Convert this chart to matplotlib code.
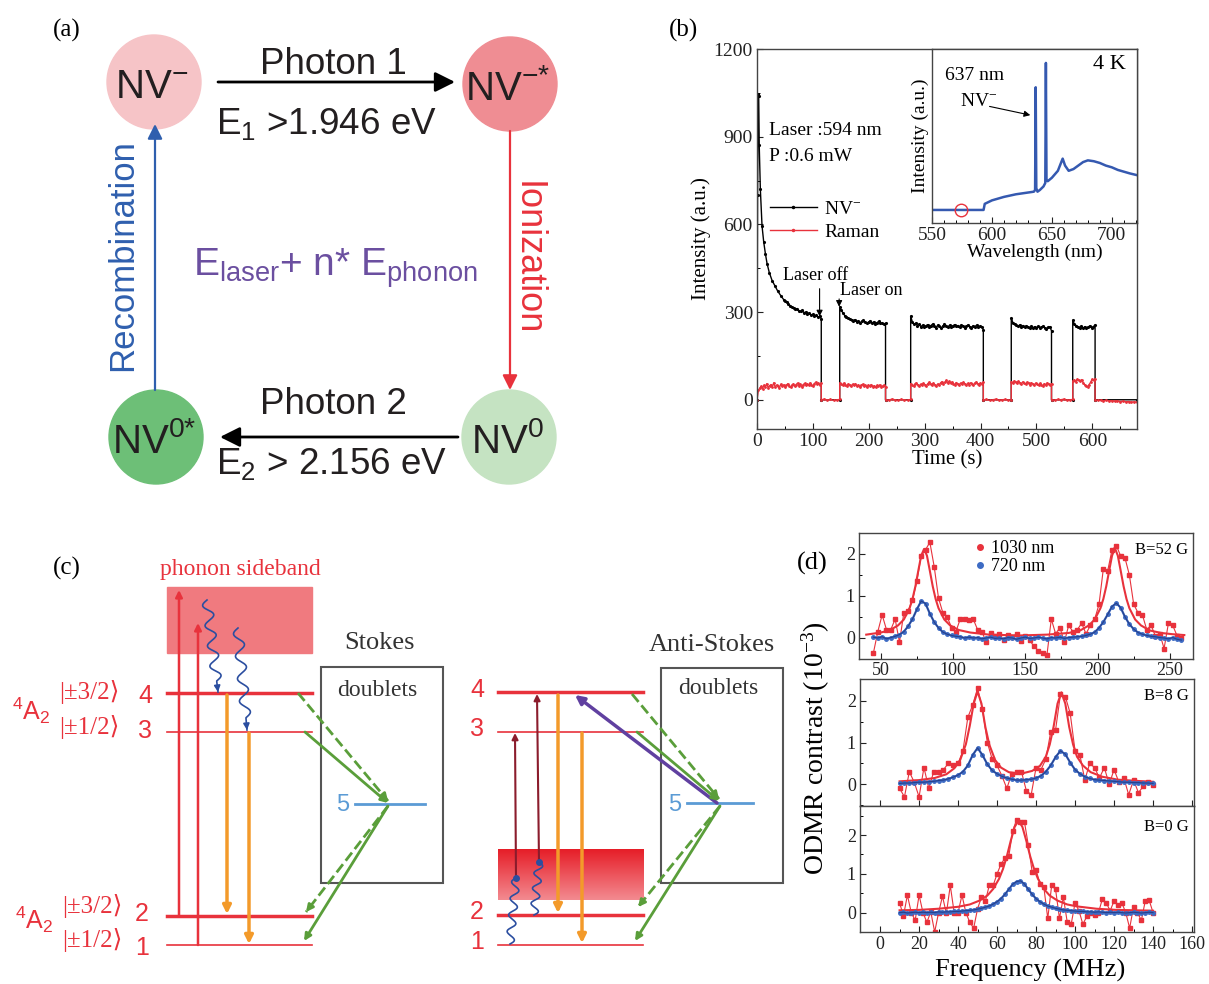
import numpy as np
import matplotlib
matplotlib.use("Agg")
import matplotlib.pyplot as plt
from matplotlib.patches import Circle, Rectangle
from matplotlib.lines import Line2D
from matplotlib.colors import to_rgb

W, H = 1209, 984
SERIF = ['Liberation Serif', 'DejaVu Serif']
SANS = ['Liberation Sans', 'DejaVu Sans']
NARROW = ['Liberation Sans Narrow', 'Liberation Sans', 'DejaVu Sans']
KET = ['Liberation Serif', 'DejaVu Sans']
plt.rcParams['font.family'] = SERIF
plt.rcParams['mathtext.default'] = 'regular'

RED = '#e8323c'
BLUE = '#3d6bc4'
GREEN = '#5a9e3a'
ORANGE = '#f39a2a'
TXT = '#231f20'

# ---------------- (a) cycle diagram ----------------
node_labels = ['NV$^{-}$', 'NV$^{-{*}}$', 'NV$^{0}$', 'NV$^{0{*}}$']
node_x = [154, 510, 509, 156]
node_y = [82, 84, 437, 437]
node_colors = ['#f6c4c7', '#ef8d93', '#c5e3c2', '#6dbf77']

# ---------------- (b) time trace ----------------
laser_on = [(0, 115), (148, 230), (275, 405), (455, 527), (565, 605)]
laser_off = [(115, 148), (230, 275), (405, 455), (527, 565), (605, 680)]

nv_decay_t = [0, 1, 2, 3, 4, 6, 9, 12, 15, 18, 22, 27, 32, 37, 43, 48]
nv_decay_v = [0, 700, 1045, 1040, 870, 720, 595, 540, 500, 466, 435, 408, 390, 372, 355, 342]
nv_on = [
    [338, 333, 328, 322, 318, 314, 310, 312, 305, 302, 306, 298, 300, 294, 297, 290, 292, 286, 289, 282, 285, 278],
    [318, 306, 296, 288, 284, 280, 276, 272, 270, 274, 267, 270, 264, 268, 272, 265, 262, 266, 270, 263, 266, 260,
     264, 268, 261, 263, 259, 262],
    [286, 266, 258, 262, 254, 258, 250, 255, 249, 253, 257, 250, 254, 259, 252, 247, 255, 251, 246, 252, 258, 254,
     249, 255, 250, 253, 257, 251, 254, 248, 256, 251, 246, 252, 256, 250, 247, 253, 250, 255, 248, 252, 250, 240],
    [280, 263, 258, 255, 251, 256, 249, 254, 248, 253, 250, 246, 252, 247, 250, 244, 251, 245, 248, 252, 246, 243,
     248, 250, 236],
    [272, 258, 254, 250, 247, 252, 245, 250, 244, 249, 253, 246, 250, 256],
]
nv_off = [[0, 0], [0, 0], [0, 0], [0, 0], [0, 0]]

raman_on = [
    [0, 32, 40, 46, 38, 50, 44, 55, 41, 48, 52, 45, 58, 43, 50, 47, 40, 53, 46, 51, 44, 49, 55, 47, 42, 50, 54, 46,
     52, 57, 48, 53, 45, 51, 56, 49, 54, 50, 58, 52, 47, 55, 60, 53, 57, 50, 56],
    [58, 55, 50, 57, 52, 48, 54, 50, 46, 53, 49, 55, 47, 51, 44, 50, 53, 46, 49, 43, 50, 47, 52, 45, 48, 42, 49, 46,
     51, 44, 47, 50, 45],
    [55, 50, 47, 54, 58, 51, 46, 53, 49, 56, 52, 48, 55, 60, 53, 49, 57, 51, 47, 54, 50, 58, 62, 55, 60, 66, 58, 63,
     57, 61, 55, 52, 59, 54, 50, 57, 53, 60, 55, 49, 56, 52, 58, 54, 50, 57, 61, 55, 52, 58, 54, 60],
    [62, 58, 64, 60, 56, 63, 59, 55, 61, 57, 53, 60, 56, 52, 58, 54, 50, 57, 53, 49, 56, 52, 48, 55, 51, 58, 53, 49, 55],
    [64, 68, 62, 70, 66, 63, 69, 58, 52, 48, 45, 52, 60, 70, 66, 72],
]
raman_off = [
    [0, 2, -1, 1, -2, 0, 1],
    [0, -1, 2, 0, -2, 1, 0, -1, 1],
    [0, 1, -2, 0, 2, -1, 0, 1, -1, 0],
    [0, -1, 1, 0, 2, -1, 0, 1],
    [0, -2, -1, -3, -2, -4, -3, -5, -4, -6, -5, -7, -6, -8, -7, -8],
]

# inset spectrum
spec_wl = [550, 575, 593, 594, 600, 610, 620, 630, 635, 636, 636.5, 637, 638, 640, 643, 644.5, 645, 645.5, 646.5,
           650, 655, 659, 661, 664, 668, 672, 676, 680, 685, 690, 695, 700, 705, 710, 715, 721]
spec_int = [0.075, 0.075, 0.075, 0.11, 0.13, 0.15, 0.165, 0.175, 0.18, 0.19, 0.78, 0.2, 0.18, 0.19, 0.21, 0.23,
            0.92, 0.25, 0.24, 0.26, 0.30, 0.37, 0.33, 0.30, 0.31, 0.33, 0.35, 0.36, 0.355, 0.345, 0.33, 0.32, 0.305,
            0.295, 0.285, 0.275]

# ---------------- (d) ODMR ----------------
top_range = (45, 258)
top_red = [-0.35, 0.15, 0.55, 0.2, 0.2, 0.45, -0.1, 0.6, 0.65, 0.9, 1.35, 1.95, 2.1, 2.28, 1.7, 0.95, 0.6, 0.5,
           0.25, 0.15, 0.45, 0.45, 0.42, 0.45, 0.2, 0.15, -0.1, 0.12, 0.05, 0.1, -0.05, 0.08, 0.02, 0.1, -0.08, 0.05,
           -0.05, -0.2, -0.3, -0.36, -0.4, 0.45, 0.1, 0.25, -0.1, 0.3, 0.15, 0.2, 0.35, 0.1, 0.3, 0.45, 0.8, 1.65,
           1.6, 2.1, 2.2, 1.95, 1.9, 1.5, 0.8, 0.6, 0.55, 0.2, 0.3, 0.05, 0.1, -0.25, 0.35, 0.3, 0.05, 0.0]
top_blue = [0.02, 0.0, 0.03, -0.02, 0.01, 0.04, 0.08, 0.15, 0.28, 0.45, 0.68, 0.88, 0.82, 0.58, 0.38, 0.24, 0.14,
            0.09, 0.06, 0.04, 0.03, 0.0, 0.02, 0.0, 0.01, -0.02, 0.0, 0.02, -0.01, 0.0, -0.02, 0.01, 0.0, -0.03, 0.0,
            0.02, -0.01, 0.0, 0.02, 0.0, -0.02, 0.01, 0.0, 0.02, -0.01, 0.01, 0.02, 0.03, 0.04, 0.06, 0.09, 0.14,
            0.24, 0.38, 0.56, 0.75, 0.83, 0.72, 0.5, 0.33, 0.21, 0.13, 0.09, 0.06, 0.04, 0.03, 0.01, 0.0, -0.02, 0.01,
            -0.03, -0.05]
top_fit_f = [40, 50, 56, 62, 66, 70, 72, 74, 76, 78, 80, 82, 84, 86, 88, 90, 94, 98, 104, 112, 125, 146, 165, 180,
             188, 194, 198, 202, 204, 206, 208, 210, 212, 214, 216, 218, 220, 222, 226, 230, 236, 244, 252, 260]
top_fit = [0.08, 0.13, 0.18, 0.30, 0.44, 0.71, 0.93, 1.23, 1.60, 1.96, 2.12, 1.96, 1.60, 1.23, 0.93, 0.71, 0.44,
           0.30, 0.19, 0.13, 0.08, 0.06, 0.08, 0.12, 0.18, 0.30, 0.44, 0.71, 0.93, 1.23, 1.60, 1.96, 2.14, 1.96,
           1.60, 1.23, 0.93, 0.71, 0.44, 0.30, 0.18, 0.12, 0.09, 0.07]

mid_range = (10, 140)
mid_red = [-0.1, -0.3, 0.3, 0.05, -0.3, 0.4, -0.1, 0.3, 0.3, 0.35, 0.5, 0.45, 0.5, 0.8, 1.6, 1.9, 2.3, 1.8, 1.0,
           0.6, 0.45, 0.2, -0.1, 0.25, 0.3, 0.3, -0.15, -0.25, 0.4, 0.35, 0.6, 1.25, 1.3, 2.15, 2.1, 1.7, 0.8, 0.7,
           0.1, 0.5, 0.4, 0.15, 0.4, 0.0, 0.35, 0.05, 0.15, -0.25, 0.1, -0.2, -0.05, 0.05, -0.02]
mid_blue = [0.02, 0.03, 0.03, 0.04, 0.05, 0.05, 0.06, 0.07, 0.09, 0.1, 0.13, 0.17, 0.22, 0.3, 0.45, 0.7, 0.87, 0.7,
            0.48, 0.33, 0.25, 0.19, 0.15, 0.12, 0.1, 0.1, 0.11, 0.12, 0.15, 0.2, 0.3, 0.45, 0.65, 0.8, 0.72, 0.52,
            0.35, 0.25, 0.18, 0.14, 0.11, 0.1, 0.09, 0.08, 0.07, 0.06, 0.05, 0.05, 0.04, 0.04, 0.03, 0.03, 0.02]
mid_fit_f = [10, 20, 28, 34, 38, 41, 44, 46, 48, 50, 52, 54, 56, 59, 62, 66, 72, 78, 82, 85, 87, 89, 91, 93, 95, 97,
             99, 101, 104, 108, 114, 122, 132, 140]
mid_fit = [0.07, 0.10, 0.15, 0.24, 0.38, 0.57, 0.96, 1.40, 1.93, 2.22, 1.93, 1.37, 0.95, 0.58, 0.40, 0.29, 0.25,
           0.32, 0.44, 0.66, 0.95, 1.38, 1.93, 2.20, 1.93, 1.37, 0.95, 0.66, 0.45, 0.29, 0.18, 0.11, 0.08, 0.06]

bot_range = (10, 140)
bot_red = [0.25, -0.08, 0.45, 0.0, -0.2, 0.45, 0.0, -0.25, 0.02, -0.5, 0.0, 0.42, -0.02, 0.7, 0.0, 0.0, 0.45, 0.0,
           -0.25, -0.4, 0.1, 0.4, 0.3, 0.7, 0.7, 1.0, 1.25, 1.4, 1.45, 2.1, 2.4, 2.35, 2.35, 1.75, 1.05, 1.1, 0.75,
           0.65, -0.15, 0.7, 0.6, -0.15, 0.4, -0.25, -0.3, 0.25, 0.05, -0.3, -0.1, 0.0, -0.05, 0.0, 0.35, 0.25, 0.05,
           0.3, 0.2, 0.25, 0.0, -0.4, 0.15, 0.0, -0.2, 0.3, 0.32, 0.0]
bot_blue = [0.0, 0.01, -0.01, 0.0, 0.01, 0.0, 0.01, 0.0, 0.01, 0.0, 0.02, 0.01, 0.02, 0.02, 0.03, 0.03, 0.04, 0.05,
            0.06, 0.07, 0.09, 0.11, 0.14, 0.17, 0.22, 0.28, 0.36, 0.47, 0.6, 0.73, 0.8, 0.82, 0.74, 0.6, 0.47, 0.36,
            0.28, 0.22, 0.17, 0.14, 0.11, 0.09, 0.07, 0.06, 0.05, 0.04, 0.03, 0.03, 0.02, 0.02, 0.01, 0.02, 0.01, 0.0,
            0.01, 0.0, 0.01, 0.0, -0.01, 0.0, 0.01, 0.0, -0.01, 0.0, 0.01, 0.0]
bot_fit_f = [10, 20, 30, 40, 46, 51, 55, 58, 61, 63, 65, 67, 69, 71, 73, 75, 77, 79, 81, 84, 87, 91, 96, 101, 111,
             121, 131, 140]
bot_fit = [0.06, 0.07, 0.10, 0.15, 0.21, 0.31, 0.44, 0.61, 0.87, 1.12, 1.45, 1.85, 2.21, 2.37, 2.21, 1.85, 1.45,
           1.12, 0.87, 0.61, 0.44, 0.31, 0.21, 0.16, 0.10, 0.07, 0.06, 0.05]


def box(l, t, r, b):
    return [l / W, 1 - b / H, (r - l) / W, (b - t) / H]


def arrow(ax, p0, p1, color, lw=1.5, ms=14, ls='-', z=3):
    head = dict(arrowstyle='-|>', color=color, lw=lw, mutation_scale=ms, shrinkA=0, shrinkB=0)
    if ls == '-':
        ax.annotate('', xy=p1, xytext=p0, arrowprops=head, zorder=z)
        return
    ax.plot([p0[0], p1[0]], [p0[1], p1[1]], color=color, lw=lw, ls=ls, zorder=z)
    d = np.subtract(p1, p0, dtype=float)
    d /= np.hypot(*d)
    q = np.array(p1) - d * 6
    ax.annotate('', xy=p1, xytext=q, arrowprops=head, zorder=z)


def wavy(ax, p0, p1, color, waves=4, amp=5, head=True):
    p0, p1 = np.array(p0, float), np.array(p1, float)
    d = p1 - p0
    L = np.hypot(*d)
    u = d / L
    nrm = np.array([-u[1], u[0]])
    s = np.linspace(0, 1, 200)
    end = 0.88 if head else 1.0
    w = amp * np.sin(2 * np.pi * waves * s / end) * (s <= end)
    pts = p0 + np.outer(s, d) + np.outer(w, nrm)
    ax.plot(pts[:, 0], pts[:, 1], color=color, lw=1.2, zorder=4)
    if head:
        ax.annotate('', xy=p1, xytext=pts[-12], zorder=4,
                    arrowprops=dict(arrowstyle='-|>', color=color, lw=1.2, mutation_scale=9, shrinkA=0, shrinkB=0))


def style_axes(ax, size=13):
    for sp in ax.spines.values():
        sp.set_color('#444444')
        sp.set_linewidth(1.0)
    ax.tick_params(direction='in', labelsize=size, colors='#222222', length=4, width=0.8, pad=3)
    ax.tick_params(which='minor', direction='in', length=2.5, width=0.7)


fig = plt.figure(figsize=(W / 100, H / 100), dpi=100)
ov = fig.add_axes([0, 0, 1, 1])
ov.axis('off')

# ---------- panel (a) ----------
for lab, x, y, c in zip(node_labels, node_x, node_y, node_colors):
    ov.add_patch(Circle((x, y), 47, color=c, zorder=1))
    ov.text(x - 2, y + 16, lab, ha='center', va='baseline', fontsize=29, color=TXT, family=NARROW, zorder=2)

arrow(ov, (218, 82), (455, 82), 'black', lw=2, ms=30)
arrow(ov, (458, 437), (220, 437), 'black', lw=2, ms=30)
arrow(ov, (510, 131), (510, 390), RED, lw=1.6, ms=22)
arrow(ov, (155, 390), (155, 124), '#2f5fae', lw=1.6, ms=22)
ov.text(333, 74, 'Photon 1', ha='center', va='baseline', fontsize=26.5, color=TXT, family=NARROW)
ov.text(326, 134, 'E$_1$ >1.946 eV', ha='center', va='baseline', fontsize=26.5, color=TXT, family=NARROW)
ov.text(333, 414, 'Photon 2', ha='center', va='baseline', fontsize=26.5, color=TXT, family=NARROW)
ov.text(332, 474, 'E$_2$ > 2.156 eV', ha='center', va='baseline', fontsize=26.5, color=TXT, family=NARROW)
ov.text(123, 255, 'Recombination', rotation=90, ha='center', va='center', fontsize=25, color='#2f5fae',
        family=NARROW)
ov.text(527, 258, 'Ionization', rotation=-90, ha='center', va='center', fontsize=26, color=RED, family=NARROW)
ov.text(335, 268, 'E$_{laser}$+ n* E$_{phonon}$', ha='center', va='center', fontsize=28, color='#6b4fa0',
        family=NARROW)
ov.text(67, 30, '(a)', ha='center', va='center', fontsize=18)
ov.text(683, 30, '(b)', ha='center', va='center', fontsize=18)
ov.text(67, 568, '(c)', ha='center', va='center', fontsize=18)
ov.text(812, 563, '(d)', ha='center', va='center', fontsize=19)

# ---------- panel (c) left : Stokes ----------
LVL = RED
ov.add_patch(Rectangle((167, 587), 145, 66, color='#f07a7f', zorder=1))
for y, lw in [(693, 2.5), (732, 1.2), (916, 2.5), (945, 1.2)]:
    ov.plot([167, 312], [y, y], color=LVL, lw=lw, zorder=2)
    ov.plot([498, 643], [y - (1 if lw > 2 else 0), y - (1 if lw > 2 else 0)], color=LVL, lw=lw, zorder=2)
arrow(ov, (179, 916), (179, 590), LVL, lw=1.8, ms=10)
arrow(ov, (198, 945), (198, 623), LVL, lw=1.8, ms=10)
wavy(ov, (207, 600), (218, 692), '#2b4ea0', waves=4, amp=5)
wavy(ov, (238, 628), (247, 730), '#2b4ea0', waves=4, amp=5)
arrow(ov, (227, 695), (227, 914), ORANGE, lw=2.5, ms=12)
arrow(ov, (249, 733), (249, 944), ORANGE, lw=2.5, ms=12)
ov.add_patch(Rectangle((321, 667), 122, 216, fill=False, ec='#555555', lw=1.5, zorder=2))
ov.plot([355, 425], [804, 804], color='#5b9bd5', lw=2, zorder=3)
ov.text(343, 805, '5', ha='center', va='center', fontsize=17, color='#5b9bd5', family=SANS)
arrow(ov, (298, 693), (388, 801), GREEN, lw=2, ms=10, ls='--')
arrow(ov, (305, 732), (388, 803), GREEN, lw=2, ms=10)
arrow(ov, (388, 806), (306, 912), GREEN, lw=2, ms=10, ls='--')
arrow(ov, (388, 806), (304, 941), GREEN, lw=2, ms=10)
ov.text(240, 570, 'phonon sideband', ha='center', va='center', fontsize=17, color=RED)
ov.text(380, 643, 'Stokes', ha='center', va='center', fontsize=19, color='#333333')
ov.text(377, 690, 'doublets', ha='center', va='center', fontsize=17, color='#333333')
for y, ket, n in [(692, '|±3/2⟩', '4'), (727, '|±1/2⟩', '3')]:
    ov.text(59, y, ket, ha='left', va='center', fontsize=18, color=LVL, family=KET)
    ov.text(145, y + 4, n, ha='center', va='center', fontsize=18, color=LVL, family=SANS)
for y, ket, n in [(906, '|±3/2⟩', '2'), (940, '|±1/2⟩', '1')]:
    ov.text(62, y, ket, ha='left', va='center', fontsize=18, color=LVL, family=KET)
    ov.text(142, y + 8, n, ha='center', va='center', fontsize=18, color=LVL, family=SANS)
ov.text(31, 711, '$^4$A$_2$', ha='center', va='center', fontsize=18, color=LVL, family=SANS)
ov.text(34, 920, '$^4$A$_2$', ha='center', va='center', fontsize=18, color=LVL, family=SANS)

# ---------- panel (c) right : anti-Stokes ----------
grad = np.linspace(0, 1, 64)[:, None, None]
c_top, c_bot = np.array(to_rgb('#e61e28')), np.array(to_rgb('#f38a90'))
ov.imshow(c_top + (c_bot - c_top) * grad, extent=(498, 644, 900, 849), aspect='auto', zorder=1)
for y, n in [(690, '4'), (729, '3'), (912, '2'), (942, '1')]:
    ov.text(477, y, n, ha='center', va='center', fontsize=18, color=LVL, family=SANS)
wavy(ov, (510, 944), (516, 878), '#2b4ea0', waves=4, amp=4, head=False)
wavy(ov, (534, 915), (539, 862), '#2b4ea0', waves=3.5, amp=4, head=False)
ov.plot([516, 539], [878, 862], 'o', color='#2b4ea0', ms=4, zorder=5)
arrow(ov, (516, 878), (515, 733), '#8b1c2c', lw=1.5, ms=9)
arrow(ov, (539, 862), (537, 694), '#8b1c2c', lw=1.5, ms=9)
arrow(ov, (558, 695), (558, 913), ORANGE, lw=2.5, ms=12)
arrow(ov, (582, 733), (582, 943), ORANGE, lw=2.5, ms=12)
ov.add_patch(Rectangle((661, 668), 122, 215, fill=False, ec='#555555', lw=1.5, zorder=2))
ov.plot([687, 753], [803, 803], color='#5b9bd5', lw=2, zorder=3)
ov.text(675, 805, '5', ha='center', va='center', fontsize=17, color='#5b9bd5', family=SANS)
arrow(ov, (717, 803), (575, 695), '#6040a0', lw=2.5, ms=13)
arrow(ov, (632, 694), (719, 799), GREEN, lw=2, ms=10, ls='--')
arrow(ov, (637, 732), (719, 801), GREEN, lw=2, ms=10)
arrow(ov, (720, 806), (638, 907), GREEN, lw=2, ms=10, ls='--')
arrow(ov, (720, 806), (635, 941), GREEN, lw=2, ms=10)
ov.text(712, 645, 'Anti-Stokes', ha='center', va='center', fontsize=19, color='#333333')
ov.text(718, 688, 'doublets', ha='center', va='center', fontsize=17, color='#333333')

ov.set_xlim(0, W)
ov.set_ylim(H, 0)

# ---------- panel (b) ----------
def build(start_t, start_v, on_vals, off_vals, on_win):
    pieces = [(a, np.linspace(a, b, len(v)), v) for (a, b), v in zip(on_win, on_vals)]
    pieces += [(a, np.linspace(a, b, len(v)), v) for (a, b), v in zip(laser_off, off_vals)]
    pieces.sort(key=lambda p: p[0])
    t, y = list(start_t), list(start_v)
    for _, tt, vv in pieces:
        t.extend(tt)
        y.extend(vv)
    return np.array(t), np.array(y)


nv_win = [(50, 115)] + laser_on[1:]
t_nv, v_nv = build(nv_decay_t, nv_decay_v, nv_on, nv_off, nv_win)
t_ra, v_ra = build([], [], raman_on, raman_off, laser_on)

axb = fig.add_axes(box(757, 49, 1137, 429))
axb.plot(t_nv, v_nv, color='black', lw=1.0, marker='.', ms=2.5)
axb.plot(t_ra, v_ra, color=RED, lw=1.0, marker='.', ms=2)
axb.set_xlim(0, 680)
axb.set_ylim(-100, 1200)
axb.set_xticks(range(0, 700, 100))
axb.set_xticks(range(50, 700, 100), minor=True)
axb.set_yticks([0, 300, 600, 900, 1200])
axb.set_yticks([150, 450, 750, 1050], minor=True)
style_axes(axb, 14)
axb.set_xlabel('Time (s)', fontsize=15, labelpad=0)
axb.set_ylabel('Intensity (a.u.)', fontsize=15, labelpad=2)
axb.text(22, 920, 'Laser :594 nm', fontsize=14, va='center')
axb.text(22, 832, 'P :0.6 mW', fontsize=14, va='center')
axb.text(105, 395, 'Laser off', fontsize=13, ha='center', va='bottom')
axb.text(148, 345, 'Laser on', fontsize=13, ha='left', va='bottom')
axb.annotate('', xy=(112, 285), xytext=(112, 380),
             arrowprops=dict(arrowstyle='-|>', color='k', lw=0.8, mutation_scale=9, shrinkA=0, shrinkB=0))
axb.annotate('', xy=(147, 318), xytext=(147, 345),
             arrowprops=dict(arrowstyle='-|>', color='k', lw=0.8, mutation_scale=9, shrinkA=0, shrinkB=0))
handles = [Line2D([], [], color='black', lw=1, marker='.', ms=3),
           Line2D([], [], color=RED, lw=1, marker='.', ms=3)]
axb.legend(handles, ['NV$^{-}$', 'Raman'], loc='upper left', bbox_to_anchor=(770 / W, 1 - 200 / H),
           bbox_transform=fig.transFigure, frameon=False, fontsize=14, handlelength=2.4, handletextpad=0.4,
           labelspacing=0.3, borderpad=0, borderaxespad=0)

axi = fig.add_axes(box(932, 49, 1137, 223))
axi.plot(spec_wl, spec_int, color='#3559b0', lw=1.8)
axi.plot([574], [spec_int[1]], 'o', mfc='none', mec=RED, ms=9, mew=1)
axi.set_xlim(550, 721)
axi.set_ylim(0, 1)
axi.set_xticks([550, 600, 650, 700])
axi.set_xticks(range(560, 721, 10), minor=True)
axi.set_yticks([])
style_axes(axi, 14)
axi.set_xlabel('Wavelength (nm)', fontsize=14, labelpad=0)
axi.set_ylabel('Intensity (a.u.)', fontsize=14, labelpad=2)
axi.text(561, 0.85, '637 nm', fontsize=14, va='center')
axi.text(573, 0.70, 'NV$^{-}$', fontsize=14, va='center')
axi.annotate('', xy=(632, 0.62), xytext=(598, 0.67),
             arrowprops=dict(arrowstyle='-|>', color='k', lw=0.8, mutation_scale=9, shrinkA=0, shrinkB=0))
axi.text(712, 0.91, '4 K', fontsize=16, ha='right', va='center')

# ---------- panel (d) ----------
def odmr(ax, f_range, red, blue, fit_f, fit_v):
    fr = np.linspace(f_range[0], f_range[1], len(red))
    fb = np.linspace(f_range[0], f_range[1], len(blue))
    ax.plot(fr, red, color=RED, lw=0.8, marker='s', ms=2.2, zorder=2)
    ax.plot(fit_f, fit_v, color=RED, lw=1.5, zorder=3)
    ax.plot(fb, blue, color=BLUE, lw=1.6, marker='o', ms=2.5, zorder=4)
    ax.plot(fb, blue, color='#27408b', lw=0.8, zorder=5)


axd1 = fig.add_axes(box(859, 533, 1193, 659))
odmr(axd1, top_range, top_red, top_blue, top_fit_f, top_fit)
axd1.set_xlim(35, 266)
axd1.set_ylim(-0.5, 2.5)
axd1.set_xticks([50, 100, 150, 200, 250])
axd1.set_xticks([75, 125, 175, 225], minor=True)
axd1.set_yticks([0, 1, 2])
axd1.set_yticks([-0.5, 0.5, 1.5], minor=True)
style_axes(axd1, 13)
axd1.tick_params(axis='x', pad=2)
axd1.text(0.985, 0.93, 'B=52 G', transform=axd1.transAxes, ha='right', va='top', fontsize=12)
dh = [Line2D([], [], color=RED, marker='o', ls='', ms=4), Line2D([], [], color=BLUE, marker='o', ls='', ms=4)]
axd1.legend(dh, ['1030 nm', '720 nm'], loc='upper left', bbox_to_anchor=(975 / W, 1 - 540 / H),
            bbox_transform=fig.transFigure, frameon=False, fontsize=13, handlelength=0.6, handletextpad=0.3,
            labelspacing=0.05, borderpad=0, borderaxespad=0)

axd2 = fig.add_axes(box(860, 679, 1194, 806))
odmr(axd2, mid_range, mid_red, mid_blue, mid_fit_f, mid_fit)
axd2.set_xlim(-10.3, 161)
axd2.set_ylim(-0.52, 2.52)
axd2.set_xticks(range(0, 161, 20))
axd2.set_xticklabels([])
axd2.set_yticks([0, 1, 2])
axd2.set_yticks([-0.5, 0.5, 1.5], minor=True)
style_axes(axd2, 13)
axd2.text(0.985, 0.93, 'B=8 G', transform=axd2.transAxes, ha='right', va='top', fontsize=12)

axd3 = fig.add_axes(box(860, 806, 1194, 932))
odmr(axd3, bot_range, bot_red, bot_blue, bot_fit_f, bot_fit)
axd3.set_xlim(-10.3, 161)
axd3.set_ylim(-0.5, 2.75)
axd3.set_xticks(range(0, 161, 20))
axd3.set_xticks(range(10, 161, 20), minor=True)
axd3.set_yticks([0, 1, 2])
axd3.set_yticks([0.5, 1.5, 2.5], minor=True)
style_axes(axd3, 13)
axd3.text(0.985, 0.9, 'B=0 G', transform=axd3.transAxes, ha='right', va='top', fontsize=12)

fig.text(816 / W, 1 - 748 / H, 'ODMR contrast (10$^{-3}$)', rotation=90, ha='center', va='center', fontsize=20)
fig.text(1030 / W, 1 - 970 / H, 'Frequency (MHz)', ha='center', va='center', fontsize=19)

fig.savefig('out.png', dpi=100)
